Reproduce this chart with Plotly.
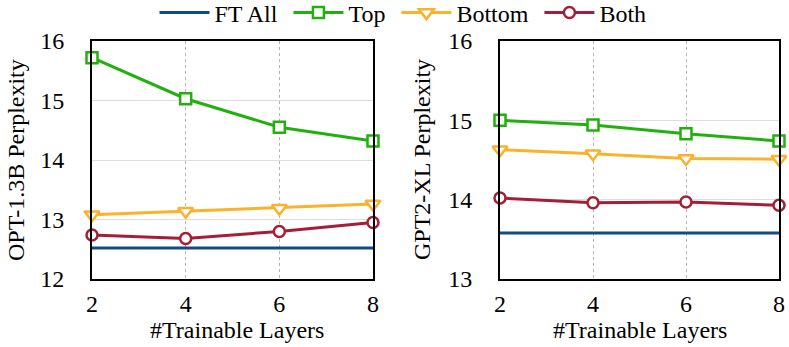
import plotly.graph_objects as go
from plotly.subplots import make_subplots

layers = [2, 4, 6, 8]

# OPT-1.3B
opt_ft_all = [12.52, 12.52, 12.52, 12.52]
opt_top = [15.72, 15.03, 14.55, 14.32]
opt_bottom = [13.08, 13.14, 13.19, 13.26]
opt_both = [12.74, 12.68, 12.80, 12.95]

# GPT2-XL
gpt_ft_all = [13.58, 13.58, 13.58, 13.58]
gpt_top = [15.00, 14.94, 14.83, 14.74]
gpt_bottom = [14.63, 14.58, 14.52, 14.51]
gpt_both = [14.02, 13.96, 13.97, 13.93]

C_FT = "#0f4c81"
C_TOP = "#22b00e"
C_BOT = "#fbb12b"
C_BOTH = "#a61e35"

FONT = "Liberation Serif"
FS = 24
W, H = 789, 347
PAD = "\u00a0"  # extra legend column spacing


def xp(px):
    return px / W


def yp(py):
    return 1 - py / H


fig = make_subplots(rows=1, cols=2)

def add_panel(col, ft, top, bot, both, show):
    fig.add_trace(go.Scatter(x=layers, y=ft, mode="lines", name="FT All" + PAD,
                             line=dict(color=C_FT, width=3), showlegend=show),
                  row=1, col=col)
    fig.add_trace(go.Scatter(x=layers, y=top, mode="lines+markers", name="Top" + PAD,
                             line=dict(color=C_TOP, width=3),
                             marker=dict(symbol="square", size=11, color="white",
                                         line=dict(color=C_TOP, width=2.5)),
                             cliponaxis=False, showlegend=show),
                  row=1, col=col)
    fig.add_trace(go.Scatter(x=layers, y=bot, mode="lines+markers", name="Bottom" + PAD,
                             line=dict(color=C_BOT, width=3),
                             marker=dict(symbol="triangle-down", size=13, color="white",
                                         line=dict(color=C_BOT, width=2.5)),
                             cliponaxis=False, showlegend=show),
                  row=1, col=col)
    fig.add_trace(go.Scatter(x=layers, y=both, mode="lines+markers", name="Both",
                             line=dict(color=C_BOTH, width=3),
                             marker=dict(symbol="circle", size=11, color="white",
                                         line=dict(color=C_BOTH, width=2.5)),
                             cliponaxis=False, showlegend=show),
                  row=1, col=col)

add_panel(1, opt_ft_all, opt_top, opt_bottom, opt_both, True)
add_panel(2, gpt_ft_all, gpt_top, gpt_bottom, gpt_both, False)

tick_font = dict(size=FS, family=FONT, color="black")

fig.update_xaxes(showline=True, mirror=True, linecolor="black", linewidth=2,
                 ticks="", tickfont=tick_font, zeroline=False, automargin=False,
                 range=[2, 8], tickvals=layers,
                 showgrid=True, gridcolor="#b5b5b5", griddash="dot", gridwidth=1,
                 ticklabelstandoff=2)
fig.update_xaxes(domain=[xp(92), xp(373)], row=1, col=1)
fig.update_xaxes(domain=[xp(500), xp(779)], row=1, col=2)

fig.update_yaxes(showline=True, mirror=True, linecolor="black", linewidth=2,
                 ticks="", tickfont=tick_font, zeroline=False, automargin=False,
                 showgrid=True, gridcolor="#dddddd", gridwidth=1,
                 dtick=1, ticklabelstandoff=21, domain=[yp(279), yp(41)])
fig.update_yaxes(range=[12, 16], row=1, col=1)
fig.update_yaxes(range=[13, 16], row=1, col=2)

# axis titles
titles = [
    ("OPT-1.3B Perplexity", 16, 160, -90),
    ("GPT2-XL Perplexity", 422, 160, -90),
    ("#Trainable Layers", 237, 330, 0),
    ("#Trainable Layers", 640, 330, 0),
]
for text, px_x, px_y, ang in titles:
    fig.add_annotation(text=text, x=xp(px_x), y=yp(px_y), xref="paper", yref="paper",
                       xanchor="center", yanchor="middle", textangle=ang, showarrow=False,
                       font=dict(size=FS, family=FONT, color="black"))

fig.update_layout(
    width=W, height=H,
    margin=dict(l=0, r=0, t=0, b=0, autoexpand=False),
    paper_bgcolor="white", plot_bgcolor="white",
    font=dict(family=FONT, size=FS, color="black"),
    legend=dict(orientation="h", x=xp(403), xanchor="center", y=yp(13), yanchor="middle",
                font=dict(size=FS, family=FONT), itemwidth=50,
                bgcolor="rgba(0,0,0,0)"),
)

# drop the default 8px body margin so the figure sits at the page origin
fig.write_html("out.html", config={"displayModeBar": False},
               post_script="document.body.style.margin = '0';")
